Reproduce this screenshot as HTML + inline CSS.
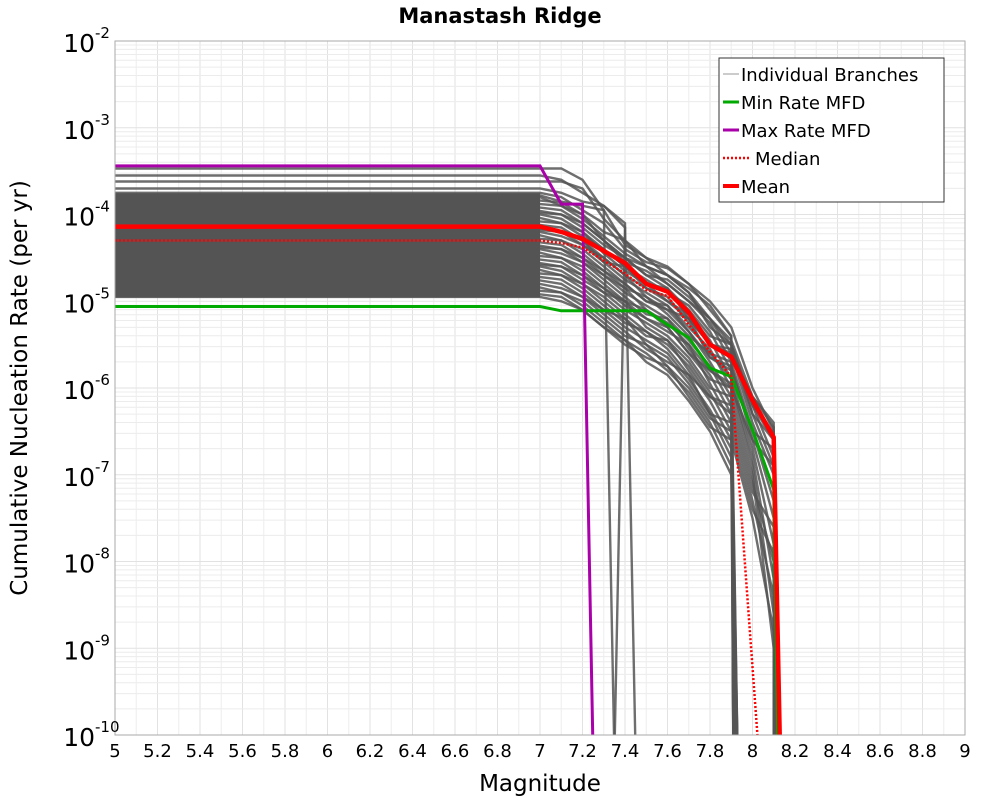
<!DOCTYPE html>
<html><head><meta charset="utf-8"><style>
body{margin:0;background:#fff;}
svg text{font-family:"DejaVu Sans","Liberation Sans",sans-serif;}
</style></head><body>
<svg id="chart" width="1000" height="800" xmlns="http://www.w3.org/2000/svg">
<text x="500" y="23" text-anchor="middle" font-size="21" font-weight="bold">Manastash Ridge</text>
<text x="540" y="791" text-anchor="middle" font-size="23">Magnitude</text>
<text transform="translate(27,388) rotate(-90)" text-anchor="middle" font-size="23">Cumulative Nucleation Rate (per yr)</text>
<g id="grid"></g>
<g id="branches"></g>
<g id="series"></g>
<rect x="115" y="41" width="850" height="694" fill="none" stroke="#aaa" stroke-width="1"/>
<g id="ticks"></g>
<g>
<rect x="719" y="58" width="225" height="144" fill="#fff" stroke="#333" stroke-width="1"/>
<line x1="723" y1="74" x2="739" y2="74" stroke="#999" stroke-width="1"/>
<text x="741" y="81" font-size="18">Individual Branches</text>
<line x1="723" y1="102" x2="739" y2="102" stroke="#00aa00" stroke-width="3"/>
<text x="741" y="109" font-size="18">Min Rate MFD</text>
<line x1="723" y1="130" x2="739" y2="130" stroke="#aa00aa" stroke-width="3"/>
<text x="741" y="137" font-size="18">Max Rate MFD</text>
<line x1="723" y1="158" x2="751" y2="158" stroke="#ff0000" stroke-width="2.5" stroke-dasharray="2,2"/>
<text x="755" y="165" font-size="18">Median</text>
<line x1="723" y1="186" x2="739" y2="186" stroke="#ff0000" stroke-width="4"/>
<text x="741" y="193" font-size="18">Mean</text>
</g>
</svg>
<script>
const mags=[5,7.0,7.1,7.2,7.3,7.4,7.5,7.6,7.7,7.8,7.9,8.0,8.1];
const xTicks=[5,5.2,5.4,5.6,5.8,6,6.2,6.4,6.6,6.8,7,7.2,7.4,7.6,7.8,8,8.2,8.4,8.6,8.8,9];
const yTickExp=[-2,-3,-4,-5,-6,-7,-8,-9,-10];
const meanLog=[-4.14,-4.14,-4.2,-4.28,-4.42,-4.56,-4.8,-4.89,-5.13,-5.5,-5.64,-6.14,-6.57];
const meanEnd=8.13;
const medianLog=[-4.3,-4.3,-4.33,-4.38,-4.53,-4.68,-4.87,-4.94,-5.27,-5.58,-5.87];
const medianEnd=8.03;
const minLog=[-5.06,-5.06,-5.11,-5.11,-5.11,-5.11,-5.11,-5.27,-5.42,-5.77,-5.87,-6.48,-7.17];
const minEnd=8.12;
const maxLog=[-3.44,-3.44,-3.88,-3.88];
const maxEnd=7.25;
const branchLogs=[
[-3.47,-3.47,-3.47,-3.6,-3.95],
[-3.55,-3.55,-3.6,-3.75,-3.9,-4.1],
[-3.62,-3.62,-3.62,-3.7,-4.05,-4.3,-4.6,-4.7,-4.9,-5.2,-5.5,-6.2,-6.6],
[-3.7,-3.7,-3.75,-3.85,-3.9,-4.15],
[-3.75,-3.75,-3.8,-3.95,-4.1,-4.4,-4.55,-4.62,-4.8,-5.0,-5.3,-6.0,-6.5],
[-3.78,-3.78,-3.85,-3.9,-3.95,-4.35,-4.5,-4.7,-4.85,-5.05,-5.4],
[-3.8,-3.8,-3.9,-4.0,-4.2,-4.3,-4.5,-4.6,-4.8,-5.1,-5.4],
[-3.84,-3.84,-3.86,-4.0,-4.3,-4.5,-4.7,-4.75,-4.95,-5.2,-5.6,-6.1,-6.4],
[-3.88,-3.88,-3.9,-4.05,-4.25,-4.45,-4.6,-4.7,-4.9,-5.3,-5.5,-6.3,-6.9],
[-3.92,-3.92,-3.95,-4.1,-4.3,-4.55,-4.65,-4.8,-5.0,-5.25,-5.7],
[-3.96,-3.96,-4.0,-4.15,-4.35,-4.5,-4.7,-4.85,-5.1,-5.4,-5.5,-6.2,-6.8],
[-4.0,-4.0,-4.05,-4.2,-4.4,-4.6,-4.75,-4.9,-5.05,-5.35,-5.8],
[-4.04,-4.04,-4.1,-4.2,-4.45,-4.65,-4.8,-4.85,-5.2,-5.5,-5.6,-6.4,-7.0],
[-4.08,-4.08,-4.1,-4.25,-4.4,-4.6,-4.8,-5.0,-5.15,-5.45,-5.9],
[-4.12,-4.12,-4.15,-4.3,-4.5,-4.7,-4.85,-4.95,-5.25,-5.6,-5.7,-6.5,-7.3],
[-4.16,-4.16,-4.2,-4.3,-4.55,-4.75,-4.9,-5.05,-5.3,-5.55,-6.0],
[-4.2,-4.2,-4.25,-4.35,-4.5,-4.7,-4.95,-5.1,-5.2,-5.65,-5.75,-6.6,-7.5],
[-4.24,-4.24,-4.3,-4.4,-4.6,-4.8,-5.0,-5.05,-5.35,-5.7,-6.1],
[-4.28,-4.28,-4.3,-4.45,-4.65,-4.85,-4.95,-5.15,-5.4,-5.6,-5.9,-6.7,-7.8],
[-4.32,-4.32,-4.35,-4.5,-4.7,-4.9,-5.05,-5.2,-5.45,-5.75,-6.2],
[-4.36,-4.36,-4.4,-4.55,-4.7,-4.85,-5.1,-5.25,-5.5,-5.8,-5.95,-6.8,-8.2],
[-4.4,-4.4,-4.45,-4.55,-4.75,-4.95,-5.15,-5.2,-5.55,-5.85,-6.3],
[-4.44,-4.44,-4.5,-4.6,-4.8,-5.0,-5.1,-5.3,-5.6,-5.9,-6.0,-6.9,-8.6],
[-4.48,-4.48,-4.5,-4.65,-4.85,-5.05,-5.2,-5.35,-5.5,-5.95,-6.4],
[-4.52,-4.52,-4.55,-4.7,-4.9,-5.1,-5.25,-5.4,-5.65,-6.0,-6.1,-7.0,-9.0],
[-4.56,-4.56,-4.6,-4.75,-4.9,-5.0,-5.3,-5.45,-5.7,-6.05,-6.5],
[-4.6,-4.6,-4.65,-4.8,-4.95,-5.15,-5.35,-5.5,-5.75,-6.1,-6.2,-7.1,-8.0],
[-4.64,-4.64,-4.7,-4.8,-5.0,-5.2,-5.4,-5.45,-5.8,-6.15,-6.6],
[-4.68,-4.68,-4.7,-4.85,-5.05,-5.25,-5.35,-5.55,-5.85,-6.1,-6.3,-7.2,-7.6],
[-4.72,-4.72,-4.75,-4.9,-5.1,-5.3,-5.45,-5.6,-5.9,-6.25,-6.7],
[-4.76,-4.76,-4.8,-4.95,-5.1,-5.2,-5.5,-5.65,-5.95,-6.3,-6.4,-7.3,-8.4],
[-4.8,-4.8,-4.85,-4.95,-5.15,-5.35,-5.55,-5.7,-5.85,-6.3,-6.8],
[-4.84,-4.84,-4.9,-5.0,-5.2,-5.4,-5.5,-5.75,-6.0,-6.35,-6.5,-7.4,-7.9],
[-4.88,-4.88,-4.9,-5.05,-5.25,-5.45,-5.6,-5.8,-6.05,-6.4,-6.9],
[-4.92,-4.92,-4.95,-5.1,-5.3,-5.5,-5.65,-5.75,-6.1,-6.45,-6.6,-7.5,-8.8],
[-4.95,-4.95,-5.0,-5.1,-5.3,-5.45,-5.7,-5.85,-6.15,-6.5,-7.0],
[-3.98,-3.98,-4.0,-4.1,-4.3,-4.5,-4.6,-4.8,-5.0,-5.2,-5.45,-6.1,-6.45],
[-4.18,-4.18,-4.2,-4.35,-4.55,-4.6,-4.85,-5.0,-5.2,-5.5,-5.55,-6.3,-6.6],
[-4.38,-4.38,-4.4,-4.5,-4.65,-4.8,-5.0,-5.1,-5.35,-5.65,-5.8,-6.5,-6.7],
[-4.58,-4.58,-4.6,-4.7,-4.85,-5.0,-5.2,-5.3,-5.6,-5.8,-6.0,-6.6,-6.9]
];
const branchEnd=[7.35,7.45,8.11,7.35,8.1,7.92,7.91,8.1,8.11,7.92,8.1,7.93,8.11,7.92,8.1,7.91,8.11,7.93,8.1,7.92,8.11,7.91,8.1,7.92,8.11,7.93,8.1,7.92,8.11,7.91,8.1,7.92,8.11,7.93,8.1,7.92,8.11,8.1,8.11,8.1];
const bandLogs=[-3.78,-3.82,-3.86,-3.9,-3.94,-3.98,-4.02,-4.06,-4.1,-4.14,-4.18,-4.22,-4.26,-4.3,-4.34,-4.38,-4.42,-4.46,-4.5,-4.54,-4.58,-4.62,-4.66,-4.7,-4.74,-4.78,-4.82,-4.86,-4.9,-4.93];

const L=115,R=965,T=41,B=735;
const xs=m=>L+(m-5)/4*(R-L);
const ys=lg=>T+(-2-lg)/8*(B-T);
const NS="http://www.w3.org/2000/svg";
function mk(tag,attrs,parent){const e=document.createElementNS(NS,tag);for(const k in attrs)e.setAttribute(k,attrs[k]);parent.appendChild(e);return e;}
const grid=document.getElementById('grid');
for(let i=0;i<=40;i++){const m=5+i*0.1;const x=xs(m);
 const gl=mk('line',{x1:x,x2:x,y1:T,y2:B,stroke:i%2==0?'#e2e2e2':'#eeeeee','stroke-width':1},grid);
 
 }
for(let d=-10;d<-2;d++){for(let k=1;k<10;k++){const y=ys(d+Math.log10(k));
 const gl=mk('line',{x1:L,x2:R,y1:y,y2:y,stroke:k==1?'#e2e2e2':'#ececec','stroke-width':1},grid);
 
 }}
function pathFor(vals,end){let d='';vals.forEach((v,i)=>{d+=(i?'L':'M')+xs(mags[i]).toFixed(1)+','+ys(v).toFixed(1);});
 d+='L'+xs(end).toFixed(1)+','+(B+20);return d;}
const clip=mk('clipPath',{id:'pc'},document.getElementById('chart'));
mk('rect',{x:L,y:T,width:R-L,height:B-T},clip);
const bg=document.getElementById('branches');bg.setAttribute('clip-path','url(#pc)');
bandLogs.forEach((v,i)=>{
 const p=mk('line',{x1:xs(5),x2:xs(7.0),y1:ys(v),y2:ys(v),stroke:'#555','stroke-width':4.5},bg);
 
 
});
branchLogs.forEach((b,i)=>{
 const p=mk('path',{d:pathFor(b,branchEnd[i]),fill:'none',stroke:'#555','stroke-opacity':0.85,'stroke-width':2.4},bg);
 
 
});
const sg=document.getElementById('series');sg.setAttribute('clip-path','url(#pc)');
const s1=mk('path',{d:pathFor(minLog,minEnd),fill:'none',stroke:'#00aa00','stroke-width':3},sg);


const s2=mk('path',{d:pathFor(maxLog,maxEnd),fill:'none',stroke:'#aa00aa','stroke-width':3},sg);


const s3=mk('path',{d:pathFor(medianLog,medianEnd),fill:'none',stroke:'#ff0000','stroke-width':2.5,'stroke-dasharray':'2,2'},sg);


const s4=mk('path',{d:pathFor(meanLog,meanEnd),fill:'none',stroke:'#ff0000','stroke-width':4.5},sg);


const tg=document.getElementById('ticks');
xTicks.forEach(m=>{const t=mk('text',{x:xs(m),y:757,'text-anchor':'middle','font-size':18},tg);t.textContent=String(m);
 
 });
yTickExp.forEach(e=>{const y=ys(e);const t=mk('text',{x:95,y:y+11,'text-anchor':'end','font-size':25},tg);t.textContent='10';
 
 
 const s=mk('text',{x:95,y:y-3,'text-anchor':'start','font-size':15},tg);s.textContent=String(e);
 
 });
</script>
</body></html>
